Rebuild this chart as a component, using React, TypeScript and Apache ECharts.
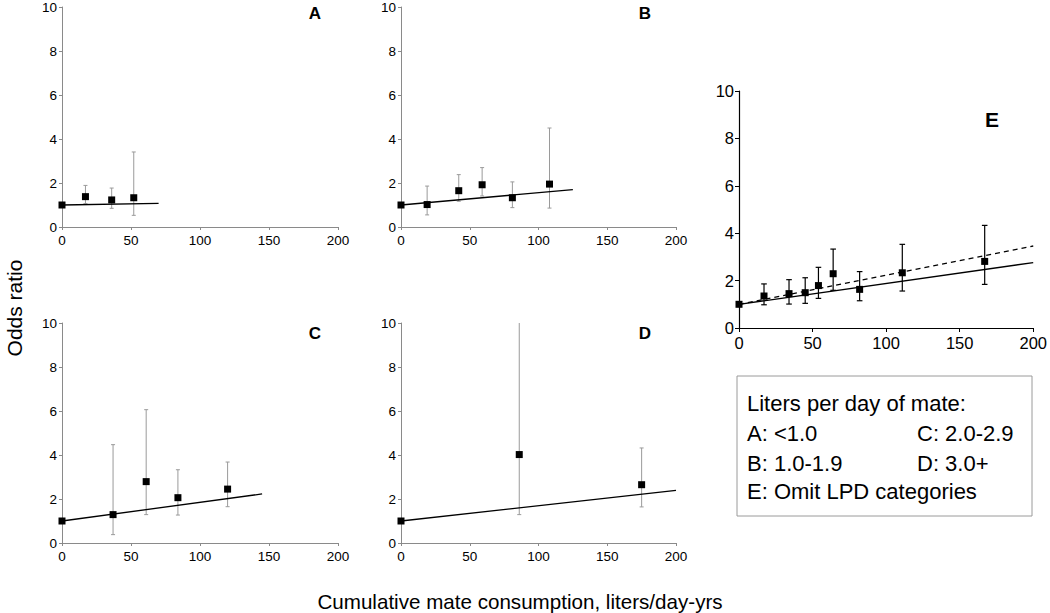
import React, { useEffect, useRef } from "react";
import * as echarts from "echarts";

// ---- Data ----
const xTicks = [0, 50, 100, 150, 200];
const yTicks = [0, 2, 4, 6, 8, 10];

// Panel A: LPD <1.0
const aX = [0, 17, 36, 52];
const aOR = [1, 1.38, 1.23, 1.33];
const aLo = [null, 1.06, 0.85, 0.53];
const aHi = [null, 1.89, 1.77, 3.41];
const aFitX = [0, 70];
const aFitY = [1, 1.07];

// Panel B: LPD 1.0-1.9
const bX = [0, 19, 42, 59, 81, 108];
const bOR = [1, 1.02, 1.65, 1.92, 1.33, 1.95];
const bLo = [null, 0.55, 1.17, 1.41, 0.88, 0.86];
const bHi = [null, 1.86, 2.38, 2.7, 2.05, 4.5];
const bFitX = [0, 125];
const bFitY = [1, 1.7];

// Panel C: LPD 2.0-2.9
const cX = [0, 37, 61, 84, 120];
const cOR = [1, 1.29, 2.79, 2.06, 2.45];
const cLo = [null, 0.38, 1.29, 1.27, 1.65];
const cHi = [null, 4.47, 6.06, 3.33, 3.68];
const cFitX = [0, 145];
const cFitY = [1, 2.23];

// Panel D: LPD 3.0+
const dX = [0, 86, 175];
const dOR = [1, 4.02, 2.65];
const dLo = [null, 1.29, 1.64];
const dHi = [null, 10, 4.32];
const dFitX = [0, 200];
const dFitY = [1, 2.39];

// Panel E: omit LPD categories
const eX = [0, 17, 34, 45, 54, 64, 82, 111, 167];
const eOR = [1, 1.35, 1.45, 1.49, 1.79, 2.29, 1.63, 2.33, 2.81];
const eLo = [null, 0.98, 1.01, 1.04, 1.25, 1.59, 1.15, 1.56, 1.84];
const eHi = [null, 1.86, 2.04, 2.12, 2.56, 3.33, 2.38, 3.53, 4.33];
const eFitX = [0, 200];
const eFitY = [1, 2.76];
const eFit2X = [0, 200];
const eFit2Y = [1, 3.46];

const panelLabels = ["A", "B", "C", "D", "E"];
const legendTitle = "Liters per day of mate:";
const legendItems = [
  ["A: <1.0", "C: 2.0-2.9"],
  ["B: 1.0-1.9", "D: 3.0+"],
  ["E: Omit LPD categories", ""],
];
const yTitle = "Odds ratio";
const xTitle = "Cumulative mate consumption, liters/day-yrs";

const FONT = "'Liberation Sans', Arial, Helvetica, sans-serif";

type Panel = {
  x: number[];
  or: number[];
  lo: (number | null)[];
  hi: (number | null)[];
  fits: { x: number[]; y: number[]; dashed: boolean }[];
};

const panels: Panel[] = [
  { x: aX, or: aOR, lo: aLo, hi: aHi, fits: [{ x: aFitX, y: aFitY, dashed: false }] },
  { x: bX, or: bOR, lo: bLo, hi: bHi, fits: [{ x: bFitX, y: bFitY, dashed: false }] },
  { x: cX, or: cOR, lo: cLo, hi: cHi, fits: [{ x: cFitX, y: cFitY, dashed: false }] },
  { x: dX, or: dOR, lo: dLo, hi: dHi, fits: [{ x: dFitX, y: dFitY, dashed: false }] },
  {
    x: eX,
    or: eOR,
    lo: eLo,
    hi: eHi,
    fits: [
      { x: eFitX, y: eFitY, dashed: false },
      { x: eFit2X, y: eFit2Y, dashed: true },
    ],
  },
];

const grids = [
  { left: 62, top: 6, width: 276, height: 221 },
  { left: 401, top: 6, width: 275, height: 221 },
  { left: 62, top: 323, width: 276, height: 220 },
  { left: 401, top: 323, width: 275, height: 220 },
  { left: 739, top: 91, width: 296, height: 237 },
];

export default function App() {
  const ref = useRef<HTMLDivElement>(null);

  useEffect(() => {
    document.body.style.margin = "0";
    if (!ref.current) return;
    const chart = echarts.init(ref.current, undefined, { renderer: "svg" });

    const xAxes: any[] = [];
    const yAxes: any[] = [];
    const series: any[] = [];

    panels.forEach((p, i) => {
      const isE = i === 4;
      const axisColor = isE ? "#000" : "#8a8a8a";
      const fs = isE ? 16.5 : 13.5;
      xAxes.push({
        type: "value",
        gridIndex: i,
        min: 0,
        max: 200,
        interval: 50,
        splitLine: { show: false },
        axisLine: { show: true, onZero: false, lineStyle: { color: axisColor, width: isE ? 1.2 : 1 } },
        axisTick: { show: true, length: isE ? 4 : 3, lineStyle: { color: axisColor } },
        axisLabel: {
          color: "#000",
          fontFamily: FONT,
          fontSize: fs,
          margin: isE ? 6 : 6,
          showMaxLabel: true,
          showMinLabel: true,
          formatter: (v: number) => (xTicks.includes(v) ? String(v) : ""),
        },
      });
      yAxes.push({
        type: "value",
        gridIndex: i,
        min: 0,
        max: 10,
        interval: 2,
        splitLine: { show: false },
        axisLine: { show: true, onZero: false, lineStyle: { color: axisColor, width: isE ? 1.2 : 1 } },
        axisTick: { show: true, length: isE ? 4 : 3, lineStyle: { color: axisColor } },
        axisLabel: {
          color: "#000",
          fontFamily: FONT,
          fontSize: fs,
          margin: 5,
          formatter: (v: number) => (yTicks.includes(v) ? String(v) : ""),
        },
      });

      // error bars
      const errData = p.x
        .map((x, k) => [x, p.lo[k], p.hi[k]])
        .filter((d) => d[1] != null && d[2] != null);
      const errColor = isE ? "#000" : "#9a9a9a";
      const cap = isE ? 2.8 : 2;
      series.push({
        type: "custom",
        xAxisIndex: i,
        yAxisIndex: i,
        clip: false,
        silent: true,
        z: 1,
        data: errData,
        encode: { x: 0, y: [1, 2] },
        renderItem: (params: any, api: any) => {
          const x = api.value(0);
          const lo = api.value(1);
          const hi = api.value(2);
          const top = api.coord([x, hi]);
          const bot = api.coord([x, lo]);
          const style = { stroke: errColor, lineWidth: isE ? 1.2 : 1 };
          const children: any[] = [
            { type: "line", shape: { x1: top[0], y1: top[1], x2: bot[0], y2: bot[1] }, style },
            { type: "line", shape: { x1: bot[0] - cap, y1: bot[1], x2: bot[0] + cap, y2: bot[1] }, style },
          ];
          if (hi < 10) {
            children.push({
              type: "line",
              shape: { x1: top[0] - cap, y1: top[1], x2: top[0] + cap, y2: top[1] },
              style,
            });
          }
          return { type: "group", children };
        },
      });

      // fit lines
      p.fits.forEach((f) => {
        series.push({
          type: "line",
          xAxisIndex: i,
          yAxisIndex: i,
          data: f.x.map((x, k) => [x, f.y[k]]),
          symbol: "none",
          silent: true,
          z: 2,
          lineStyle: { color: "#000", width: 1.3, type: f.dashed ? [5, 4] : "solid" },
        });
      });

      // points
      series.push({
        type: "scatter",
        xAxisIndex: i,
        yAxisIndex: i,
        data: p.x.map((x, k) => [x, p.or[k]]),
        symbol: "rect",
        symbolSize: 7,
        itemStyle: { color: "#000", opacity: 1 },
        silent: true,
        z: 3,
      });
    });

    const graphics: any[] = [];
    const labelPos = [
      { x: 315, y: 13, s: 17 },
      { x: 645, y: 13, s: 17 },
      { x: 315, y: 333, s: 17 },
      { x: 645, y: 333, s: 17 },
      { x: 992, y: 119, s: 21 },
    ];
    panelLabels.forEach((t, i) => {
      graphics.push({
        type: "text",
        x: labelPos[i].x,
        y: labelPos[i].y,
        style: {
          text: t,
          fontFamily: FONT,
          fontWeight: "bold",
          fontSize: labelPos[i].s,
          fill: "#000",
          textAlign: "center",
          textVerticalAlign: "middle",
        },
      });
    });

    graphics.push({
      type: "text",
      x: 14,
      y: 308,
      rotation: Math.PI / 2,
      style: {
        text: yTitle,
        fontFamily: FONT,
        fontSize: 21,
        fill: "#000",
        textAlign: "center",
        textVerticalAlign: "middle",
      },
    });
    graphics.push({
      type: "text",
      x: 520,
      y: 601,
      style: {
        text: xTitle,
        fontFamily: FONT,
        fontSize: 20.6,
        fill: "#000",
        textAlign: "center",
        textVerticalAlign: "middle",
      },
    });

    // legend box
    graphics.push({
      type: "rect",
      shape: { x: 737, y: 376, width: 295, height: 140 },
      style: { fill: "#fff", stroke: "#9a9a9a", lineWidth: 1 },
    });
    const rowY = [403, 433, 463, 491];
    const lfs = 22;
    graphics.push({
      type: "text",
      x: 747,
      y: rowY[0],
      style: { text: legendTitle, fontFamily: FONT, fontSize: lfs, fill: "#000", textVerticalAlign: "middle" },
    });
    legendItems.forEach((row, r) => {
      row.forEach((t, c) => {
        if (!t) return;
        graphics.push({
          type: "text",
          x: c === 0 ? 747 : 917,
          y: rowY[r + 1],
          style: { text: t, fontFamily: FONT, fontSize: lfs, fill: "#000", textVerticalAlign: "middle" },
        });
      });
    });

    chart.setOption({
      animation: false,
      backgroundColor: "#fff",
      grid: grids.map((g) => ({ ...g, containLabel: false })),
      xAxis: xAxes,
      yAxis: yAxes,
      series,
      graphic: graphics,
    });

    return () => chart.dispose();
  }, []);

  return <div ref={ref} style={{ width: 1050, height: 613 }} />;
}
